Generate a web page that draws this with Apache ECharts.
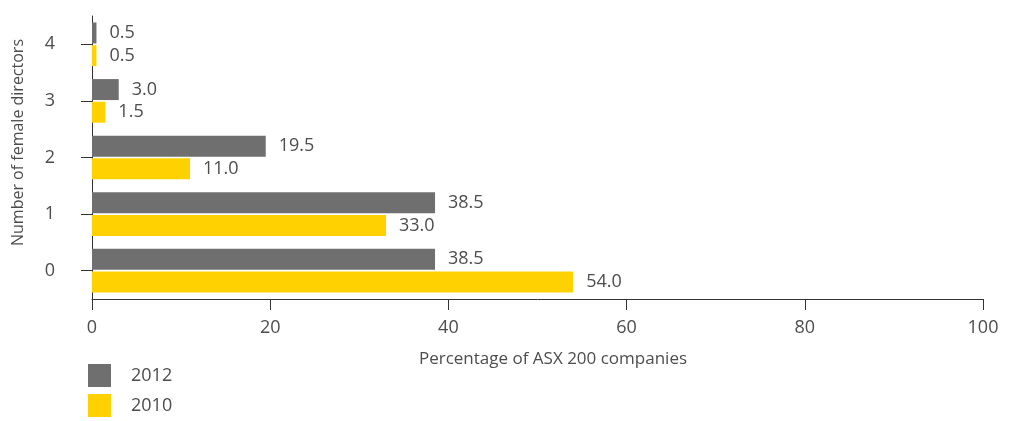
<!DOCTYPE html>
<html>
<head>
<meta charset="utf-8">
<script src="https://cdn.jsdelivr.net/npm/echarts@6/dist/echarts.min.js"></script>
<style>
  html, body { margin: 0; padding: 0; background: #fff; }
  #chart { width: 1015px; height: 421px; }
</style>
</head>
<body>
<div id="chart"></div>
<script>
// Number of female directors on ASX 200 boards, share of companies (%)
const categories = ['0', '1', '2', '3', '4'];
const values2012 = [38.5, 38.5, 19.5, 3.0, 0.5];
const values2010 = [54.0, 33.0, 11.0, 1.5, 0.5];
const xTicks = [0, 20, 40, 60, 80, 100];

const FONT = '"Open Sans", "Noto Sans", sans-serif';
const TEXT = '#4d4d4d';
const GREY = '#6f6f70';
const YELLOW = '#ffd100';

const chart = echarts.init(document.getElementById('chart'));

const valueLabel = {
  show: true,
  position: 'right',
  distance: 13,
  color: TEXT,
  fontFamily: FONT,
  fontSize: 18,
  formatter: p => p.value.toFixed(1)
};

chart.setOption({
  animation: false,
  textStyle: { fontFamily: FONT },
  grid: { left: 92, right: 32, top: 16, bottom: 122, containLabel: false },
  legend: {
    orient: 'vertical',
    left: 88,
    top: 364,
    padding: 0,
    itemWidth: 23,
    itemHeight: 23,
    itemGap: 7,
    icon: 'rect',
    textStyle: { color: TEXT, fontSize: 18, fontFamily: FONT, padding: [0, 0, 0, 15] },
    data: ['2012', '2010']
  },
  xAxis: {
    type: 'value',
    min: xTicks[0],
    max: xTicks[xTicks.length - 1],
    interval: 20,
    name: 'Percentage of ASX 200 companies',
    nameLocation: 'middle',
    nameGap: 52,
    nameTextStyle: { color: TEXT, fontSize: 17, fontFamily: FONT, padding: [0, 0, 0, 31] },
    axisLine: { show: true, lineStyle: { color: '#333', width: 1 } },
    axisTick: { show: true, length: 11, lineStyle: { color: '#333' } },
    axisLabel: { color: TEXT, fontSize: 18, fontFamily: FONT, margin: 20 },
    splitLine: { show: false }
  },
  yAxis: {
    type: 'category',
    data: categories,
    name: 'Number of female directors',
    nameLocation: 'middle',
    nameGap: 66,
    nameRotate: 90,
    nameTextStyle: { color: TEXT, fontSize: 16, fontFamily: FONT, padding: [0, 0, 0, 30] },
    axisLine: { show: true, lineStyle: { color: '#333', width: 1 } },
    axisTick: { show: true, length: 11, alignWithLabel: true, lineStyle: { color: '#333' } },
    axisLabel: { color: TEXT, fontSize: 18, fontFamily: FONT, margin: 37 },
    splitLine: { show: false }
  },
  series: [
    {
      name: '2012',
      type: 'bar',
      data: values2012,
      barWidth: 21,
      barGap: '8%',
      itemStyle: { color: GREY },
      label: valueLabel
    },
    {
      name: '2010',
      type: 'bar',
      data: values2010,
      barWidth: 21,
      itemStyle: { color: YELLOW },
      label: valueLabel
    }
  ]
});
</script>
</body>
</html>
